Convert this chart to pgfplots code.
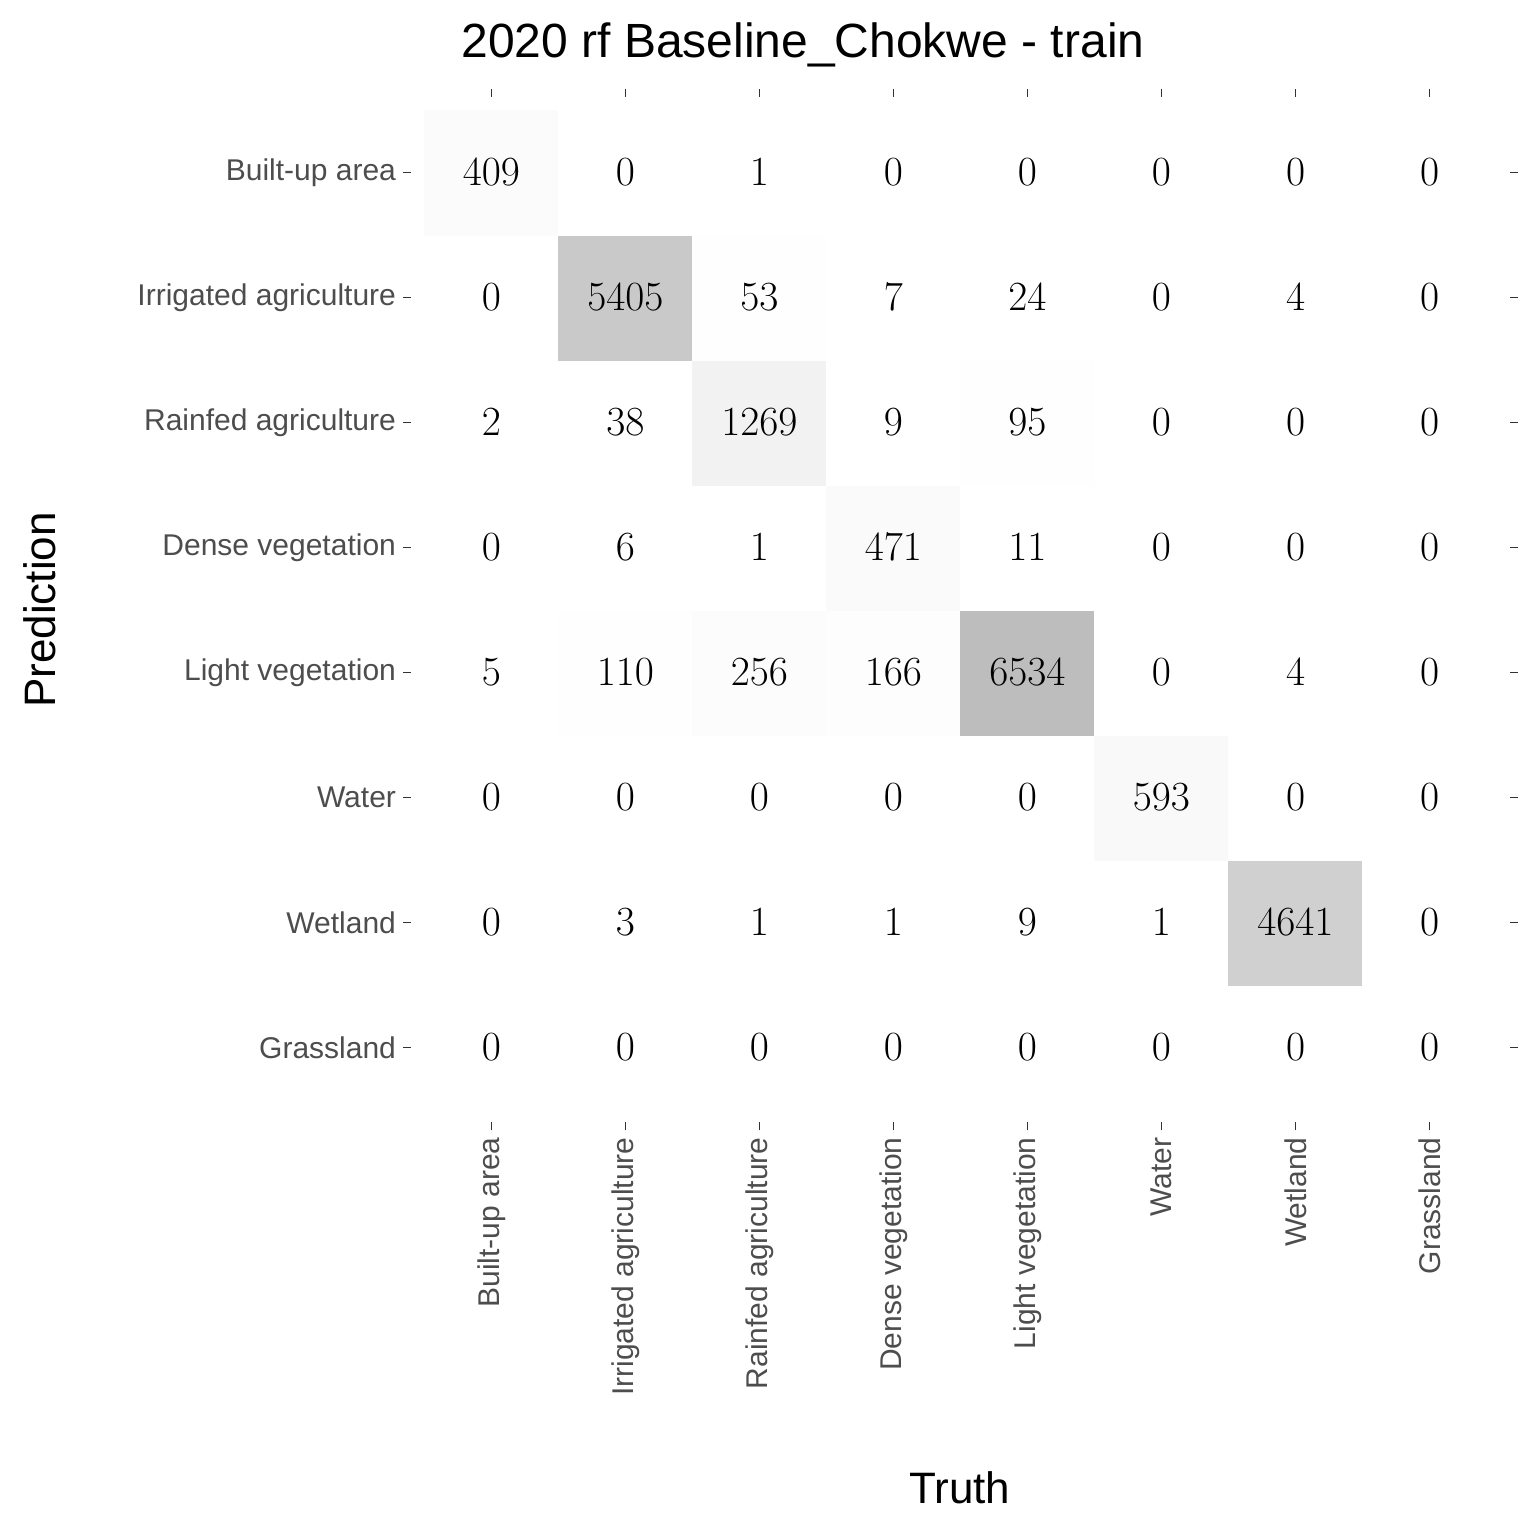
\documentclass[border=0pt]{standalone}
\usepackage{pgfplots}
\pgfplotsset{compat=1.18}
\usepackage{pgfplotstable}
\usepackage{fontspec}
\setmainfont{Liberation Sans}
\pgfplotstableread{
x y v
0 0 0
1 0 0
2 0 0
3 0 0
4 0 0
5 0 0
6 0 0
7 0 0
0 1 0
1 1 3
2 1 1
3 1 1
4 1 9
5 1 1
6 1 4641
7 1 0
0 2 0
1 2 0
2 2 0
3 2 0
4 2 0
5 2 593
6 2 0
7 2 0
0 3 5
1 3 110
2 3 256
3 3 166
4 3 6534
5 3 0
6 3 4
7 3 0
0 4 0
1 4 6
2 4 1
3 4 471
4 4 11
5 4 0
6 4 0
7 4 0
0 5 2
1 5 38
2 5 1269
3 5 9
4 5 95
5 5 0
6 5 0
7 5 0
0 6 0
1 6 5405
2 6 53
3 6 7
4 6 24
5 6 0
6 6 4
7 6 0
0 7 409
1 7 0
2 7 1
3 7 0
4 7 0
5 7 0
6 7 0
7 7 0
}\cm
\definecolor{ticklab}{HTML}{4D4D4D}
\begin{document}
\begin{tikzpicture}
\begin{axis}[
  scale only axis, width=549.5pt, height=512.5pt,
  xmin=-0.6, xmax=7.6, ymin=-0.6, ymax=7.6,
  clip=false,
  axis line style={draw=none},
  tick align=outside, major tick length=4pt,
  tick style={color=black!80, line width=0.8pt},
  xtick={0,...,7}, ytick={0,...,7},
  xticklabels={Built-up area,Irrigated agriculture,Rainfed agriculture,Dense vegetation,Light vegetation,Water,Wetland,Grassland},
  yticklabels={Grassland,Wetland,Water,Light vegetation,Dense vegetation,Rainfed agriculture,Irrigated agriculture,Built-up area},
  xticklabel style={rotate=90, anchor=east, font=\fontsize{15}{18}\selectfont, text=ticklab},
  yticklabel style={font=\fontsize{15}{18}\selectfont, text=ticklab},
  colormap={g}{rgb255=(255,255,255) rgb255=(0,0,0)},
  point meta min=0, point meta max=25500,
]
\addplot[matrix plot*, mesh/cols=8, point meta=explicit, draw=none] table[x=x,y=y,meta=v]{\cm};
\addplot[only marks, mark=none, point meta=explicit,
  nodes near coords={\pgfmathprintnumber[fixed,precision=0,1000 sep={}]{\pgfplotspointmeta}},
  nodes near coords align=center,
  every node near coord/.style={font=\fontsize{21}{24}\selectfont, anchor=center, text=black}]
  table[x=x,y=y,meta=v]{\cm};
\path (rel axis cs:-0.374,-0.4024) rectangle (rel axis cs:1.0228,1.0951);
\node[font=\fontsize{24}{28}\selectfont] at (rel axis cs:0.3567,1.0512) {2020 rf Baseline\_Chokwe - train};
\node[font=\fontsize{22}{26}\selectfont] at (rel axis cs:0.4995,-0.3566) {Truth};
\node[font=\fontsize{22}{26}\selectfont, rotate=90] at (rel axis cs:-0.3376,0.5) {Prediction};
\end{axis}
\end{tikzpicture}
\end{document}
